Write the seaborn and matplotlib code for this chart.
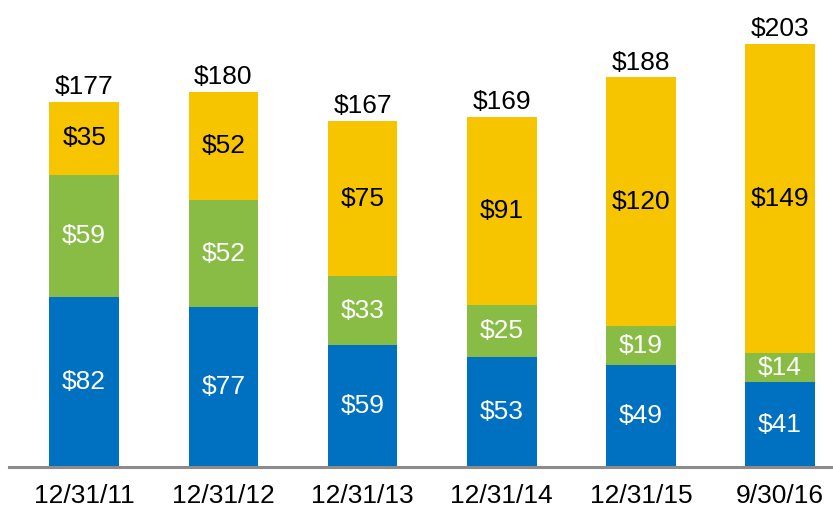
import matplotlib
matplotlib.use("Agg")
import matplotlib.pyplot as plt
import seaborn as sns
import numpy as np

# values ($)
dates = ["12/31/11", "12/31/12", "12/31/13", "12/31/14", "12/31/15", "9/30/16"]
blue_vals = [82, 77, 59, 53, 49, 41]
green_vals = [59, 52, 33, 25, 19, 14]
yellow_vals = [35, 52, 75, 91, 120, 149]
totals = [177, 180, 167, 169, 188, 203]

BLUE = "#0070C0"
GREEN = "#89BC45"
YELLOW = "#F6C500"

sns.set_style("white")
plt.rcParams["font.family"] = ["Liberation Sans", "DejaVu Sans"]

fig = plt.figure(figsize=(8.33, 5.09), dpi=100)
ax = fig.add_axes([9 / 833, 42 / 509, 824 / 833, 467 / 509])

blue = np.array(blue_vals)
green = np.array(green_vals)
yellow = np.array(yellow_vals)
cum_green = blue + green
cum_yellow = cum_green + yellow

# overlapping bars, tallest first, gives the stacked look
sns.barplot(x=dates, y=cum_yellow, color=YELLOW, width=0.5, saturation=1, linewidth=0, ax=ax)
sns.barplot(x=dates, y=cum_green, color=GREEN, width=0.5, saturation=1, linewidth=0, ax=ax)
sns.barplot(x=dates, y=blue, color=BLUE, width=0.5, saturation=1, linewidth=0, ax=ax)

fs = 19
for i in range(len(dates)):
    ax.text(i, blue[i] / 2, f"${blue[i]}", ha="center", va="center", color="white", fontsize=fs)
    ax.text(i, blue[i] + green[i] / 2, f"${green[i]}", ha="center", va="center", color="white", fontsize=fs)
    ax.text(i, cum_green[i] + yellow[i] / 2, f"${yellow[i]}", ha="center", va="center", color="black", fontsize=fs)
    ax.annotate(f"${totals[i]}", (i, cum_yellow[i]), xytext=(0, 2), textcoords="offset points",
                ha="center", va="bottom", color="black", fontsize=fs)

ax.set_xlim(-0.54, 5.38)
ax.set_ylim(0, 225.3)
ax.set_yticks([])
ax.set_xlabel("")
ax.set_ylabel("")
for side in ["top", "right", "left"]:
    ax.spines[side].set_visible(False)
ax.spines["bottom"].set_color("#8C8C8C")
ax.spines["bottom"].set_linewidth(2.2)
ax.tick_params(axis="x", length=0, pad=12, labelsize=fs, labelcolor="black")

fig.savefig("out.png", dpi=100)
